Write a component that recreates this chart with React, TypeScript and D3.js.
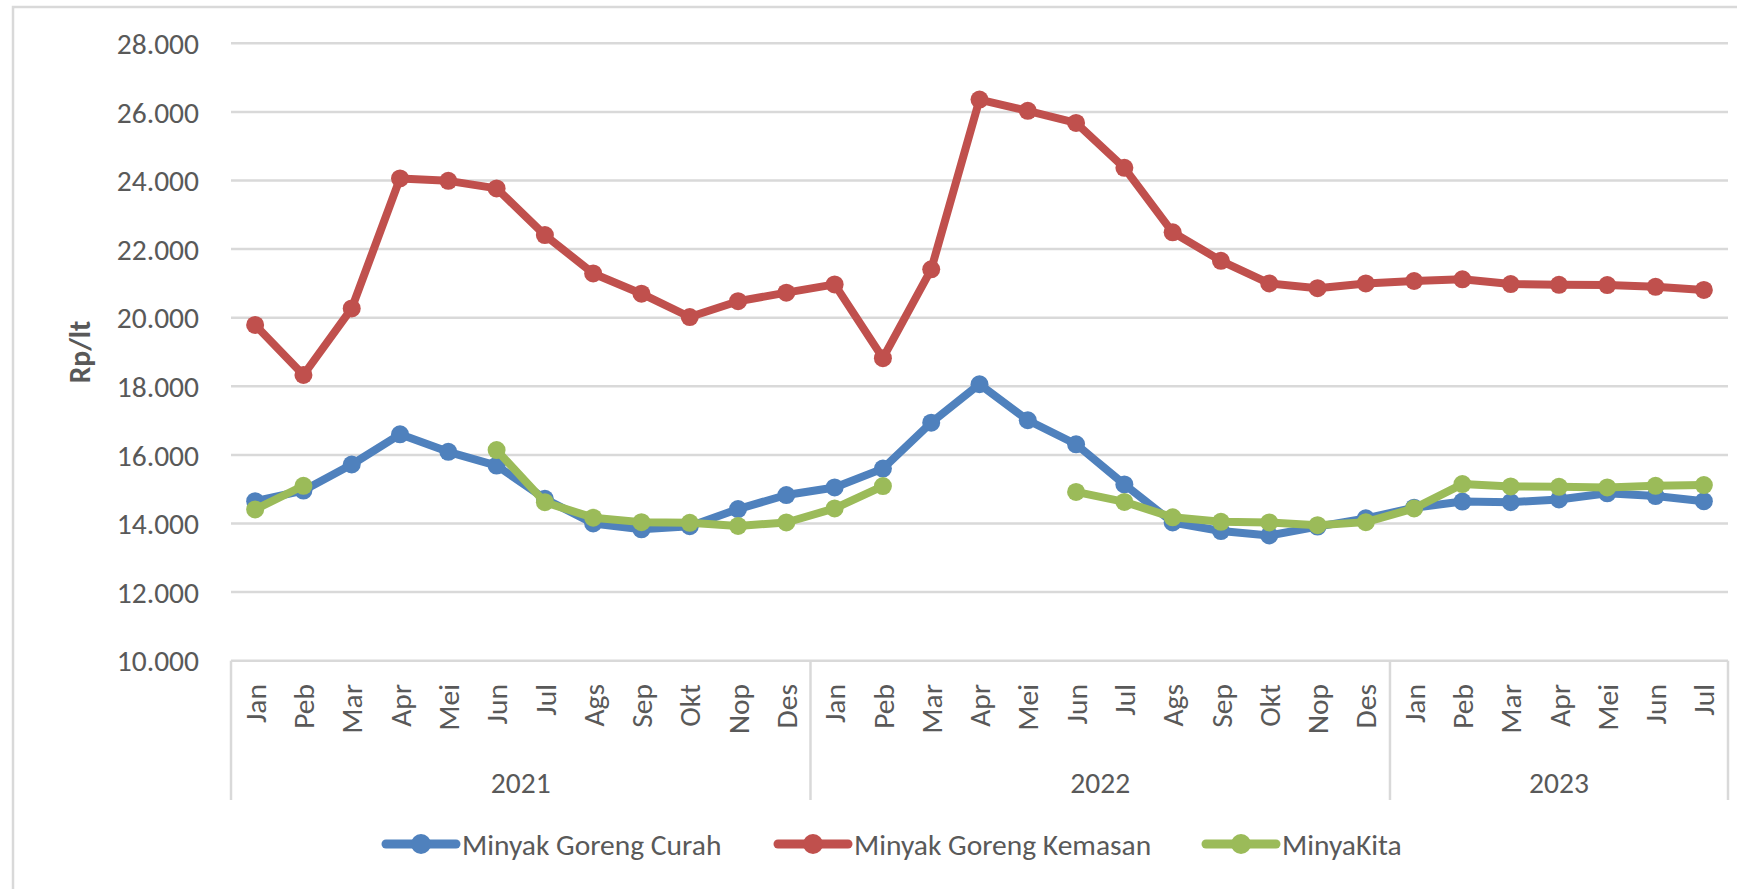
import React from "react";
import * as d3 from "d3";

const MONTHS_FULL = ["Jan", "Peb", "Mar", "Apr", "Mei", "Jun", "Jul", "Ags", "Sep", "Okt", "Nop", "Des"];
const YEARS = ["2021", "2022", "2023"];
const MONTHS_PER_YEAR = [12, 12, 7];

const CURAH = [
  14650, 14960, 15720, 16600, 16090, 15690, 14720, 14000, 13830, 13920, 14420, 14830,
  15050, 15600, 16940, 18060, 17010, 16310, 15140, 14030, 13780, 13650, 13910, 14150,
  14460, 14640, 14620, 14700, 14880, 14800, 14650,
];
const KEMASAN = [
  19790, 18330, 20270, 24060, 23990, 23770, 22410, 21290, 20700, 20020, 20480, 20730,
  20970, 18820, 21410, 26360, 26030, 25680, 24370, 22490, 21660, 21000, 20860, 21000,
  21070, 21120, 20980, 20960, 20950, 20900, 20810,
];
const MINYAKITA: (number | null)[] = [
  14410, 15100, null, null, null, 16140, 14620, 14170, 14040, 14020, 13930, 14030,
  14440, 15090, null, null, null, 14920, 14630, 14180, 14050, 14030, 13950, 14040,
  14440, 15150, 15080, 15070, 15050, 15100, 15120,
];
const SERIES_NAMES = ["Minyak Goreng Curah", "Minyak Goreng Kemasan", "MinyaKita"];
const SERIES_COLORS = ["#4F81BD", "#C0504D", "#9BBB59"];
const Y_TICKS = [10000, 12000, 14000, 16000, 18000, 20000, 22000, 24000, 26000, 28000];
const Y_TITLE = "Rp/lt";

const W = 1737;
const H = 889;
const FONT = "Carlito, Calibri, Lato, sans-serif";
const TEXT = "#595959";
const GRID = "#D9D9D9";

export default function App() {
  const categories: { key: string; month: string; year: string }[] = [];
  YEARS.forEach((yr, yi) => {
    for (let m = 0; m < MONTHS_PER_YEAR[yi]; m++) {
      categories.push({ key: `${yr}-${m}`, month: MONTHS_FULL[m], year: yr });
    }
  });
  const keys = categories.map((c) => c.key);

  const left = 231;
  const right = 1728;
  const top = 43.3;
  const bottom = 660.7;

  const x = d3.scaleBand<string>().domain(keys).range([left, right]).padding(0);
  const y = d3.scaleLinear().domain([10000, 28000]).range([bottom, top]);
  const cx = (k: string) => (x(k) as number) + x.bandwidth() / 2;

  const allSeries = [CURAH, KEMASAN, MINYAKITA as (number | null)[]];

  const line = d3
    .line<number | null>()
    .defined((d) => d != null)
    .x((_, i) => cx(keys[i]))
    .y((d) => y(d as number));

  const bounds: number[] = [left];
  let acc = 0;
  const yearCenters: number[] = [];
  MONTHS_PER_YEAR.forEach((n) => {
    const start = x(keys[acc]) as number;
    acc += n;
    const end = acc < keys.length ? (x(keys[acc]) as number) : right;
    bounds.push(end);
    yearCenters.push((start + end) / 2);
  });

  const fs = 29.5;
  const legendStarts = [386, 778, 1206];
  const legendY = 844;

  return (
    <svg
      width={W}
      height={H}
      style={{ position: "fixed", left: 0, top: 0, background: "#fff" }}
      fontFamily={FONT}
    >
      <rect x={0} y={0} width={W} height={H} fill="#fff" />
      <rect x={13} y={7} width={W + 20} height={H + 20} fill="none" stroke={GRID} strokeWidth={2.5} />

      {Y_TICKS.map((t) => (
        <line key={t} x1={left} x2={right} y1={y(t)} y2={y(t)} stroke={GRID} strokeWidth={2.5} />
      ))}

      {Y_TICKS.map((t) => (
        <text
          key={"l" + t}
          x={199}
          y={y(t)}
          dy="0.36em"
          textAnchor="end"
          fontSize={fs}
          fill={TEXT}
        >
          {d3.format(",")(t).replace(/,/g, ".")}
        </text>
      ))}

      <text
        transform={`translate(79, ${(top + bottom) / 2}) rotate(-90)`}
        textAnchor="middle"
        dy="0.36em"
        fontSize={fs}
        fontWeight="bold"
        fill={TEXT}
      >
        {Y_TITLE}
      </text>

      {bounds.map((b, i) => (
        <line key={"b" + i} x1={b} x2={b} y1={bottom} y2={800} stroke={GRID} strokeWidth={2.5} />
      ))}

      {categories.map((c) => (
        <text
          key={"m" + c.key}
          transform={`translate(${cx(c.key)}, 684) rotate(-90)`}
          textAnchor="end"
          dy="0.36em"
          fontSize={fs}
          fill={TEXT}
        >
          {c.month}
        </text>
      ))}

      {YEARS.map((yr, i) => (
        <text key={yr} x={yearCenters[i]} y={782} dy="0.36em" textAnchor="middle" fontSize={fs} fill={TEXT}>
          {yr}
        </text>
      ))}

      {allSeries.map((s, si) => (
        <g key={"s" + si}>
          <path
            d={line(s) || ""}
            fill="none"
            stroke={SERIES_COLORS[si]}
            strokeWidth={8}
            strokeLinejoin="round"
            strokeLinecap="round"
          />
          {s.map((v, i) =>
            v == null ? null : (
              <circle key={i} cx={cx(keys[i])} cy={y(v)} r={9} fill={SERIES_COLORS[si]} />
            )
          )}
        </g>
      ))}

      {SERIES_NAMES.map((n, i) => (
        <g key={"lg" + i}>
          <line
            x1={legendStarts[i]}
            x2={legendStarts[i] + 70}
            y1={legendY}
            y2={legendY}
            stroke={SERIES_COLORS[i]}
            strokeWidth={9}
            strokeLinecap="round"
          />
          <circle cx={legendStarts[i] + 35} cy={legendY} r={10} fill={SERIES_COLORS[i]} />
          <text x={legendStarts[i] + 76} y={legendY} dy="0.36em" fontSize={fs} fill={TEXT}>
            {n}
          </text>
        </g>
      ))}
    </svg>
  );
}
